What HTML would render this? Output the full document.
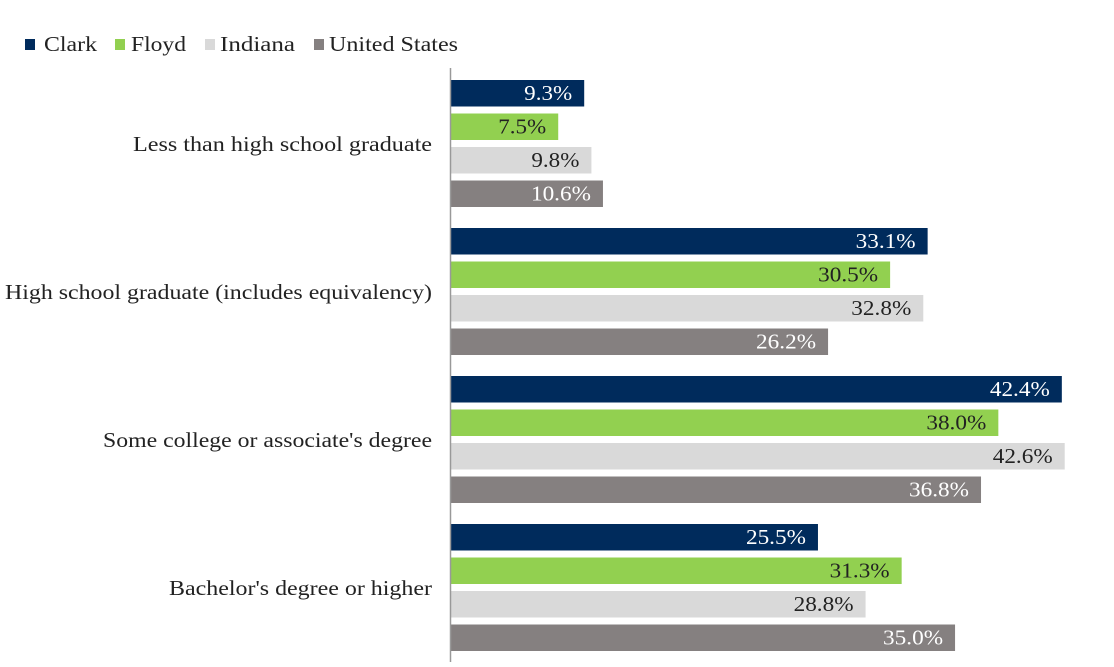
<!DOCTYPE html>
<html><head><meta charset="utf-8"><style>
body{margin:0;background:#fff;font-family:"Liberation Serif",serif;}
svg{display:block}
text{font-family:"Liberation Serif",serif;}
</style></head><body>
<svg width="1114" height="667" id="chart">
<g>
<rect x="25" y="39" width="10" height="11" fill="#002b5c"/>
<text x="44" y="51" font-size="21" fill="#222" textLength="53" lengthAdjust="spacingAndGlyphs">Clark</text>
<rect x="115" y="39" width="10" height="11" fill="#92d050"/>
<text x="131" y="51" font-size="21" fill="#222" textLength="55" lengthAdjust="spacingAndGlyphs">Floyd</text>
<rect x="205" y="39" width="10" height="11" fill="#d9d9d9"/>
<text x="220" y="51" font-size="21" fill="#222" textLength="75" lengthAdjust="spacingAndGlyphs">Indiana</text>
<rect x="314" y="39" width="10" height="11" fill="#858080"/>
<text x="329" y="51" font-size="21" fill="#222" textLength="129" lengthAdjust="spacingAndGlyphs">United States</text>
</g>
<g id="bars"></g>
<line x1="450.5" y1="68" x2="450.5" y2="662" stroke="#999" stroke-width="1.5"/>
</svg>
<script>
const categories=["Less than high school graduate","High school graduate (includes equivalency)","Some college or associate's degree","Bachelor's degree or higher"];
const seriesNames=["Clark","Floyd","Indiana","United States"];
const clark=[9.3,33.1,42.4,25.5];
const floyd=[7.5,30.5,38.0,31.3];
const indiana=[9.8,32.8,42.6,28.8];
const us=[10.6,26.2,36.8,35.0];
const series=[clark,floyd,indiana,us];
const colors=["#002b5c","#92d050","#d9d9d9","#858080"];
const textColors=["#fff","#222","#222","#fff"];
const catWidths=[299,427,329,263];
const x0=450, pxPer=14.43;
function xs(v){return x0+v*pxPer;}
function ys(ci,si){return 80+ci*148+si*33.5;}
const ns="http://www.w3.org/2000/svg";
const g=document.getElementById('bars');
categories.forEach((c,ci)=>{
  const t=document.createElementNS(ns,'text');
  
  
  t.setAttribute('x',432-catWidths[ci]);t.setAttribute('y',ys(ci,0)+64+7);
  t.setAttribute('textLength',catWidths[ci]);t.setAttribute('lengthAdjust','spacingAndGlyphs');
  t.setAttribute('font-size','21');t.setAttribute('fill','#222');
  t.textContent=c;g.appendChild(t);
  series.forEach((s,si)=>{
    const r=document.createElementNS(ns,'rect');
    
    
    r.setAttribute('x',x0);r.setAttribute('y',ys(ci,si));
    r.setAttribute('width',xs(s[ci])-x0);r.setAttribute('height',26.5);
    r.setAttribute('fill',colors[si]);g.appendChild(r);
    const l=document.createElementNS(ns,'text');
    
    
    const txt=s[ci].toFixed(1)+'%';
    const w=txt.length===4?48:60;
    l.setAttribute('x',xs(s[ci])-12-w);l.setAttribute('y',ys(ci,si)+20);
    l.setAttribute('textLength',w);l.setAttribute('lengthAdjust','spacingAndGlyphs');
    l.setAttribute('font-size','21');l.setAttribute('fill',textColors[si]);
    l.textContent=txt;g.appendChild(l);
  });
});
</script>
</body></html>
